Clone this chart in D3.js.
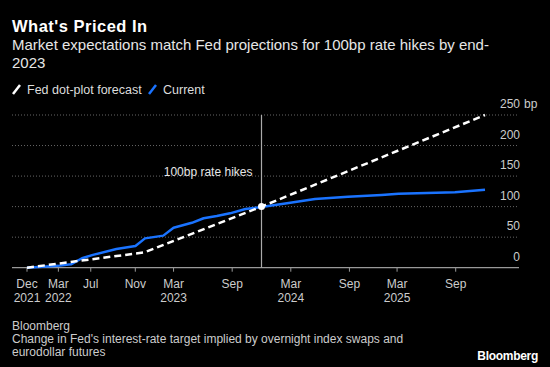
<!DOCTYPE html>
<html><head><meta charset="utf-8">
<script src="https://cdn.jsdelivr.net/npm/d3@7"></script>
<style>
html,body{margin:0;padding:0;background:#000;}
svg{display:block;}
text{font-family:"Liberation Sans",Arial,sans-serif;}
</style></head>
<body>
<script>
// x unit: FOMC-meeting index counted from Dec 2021
const tickIdx    = [0, 2.14, 4.35, 7.39, 10, 14, 18, 22, 25.25, 29.25];
const tickMonths = ["Dec","Mar","Jul","Nov","Mar","Sep","Mar","Sep","Mar","Sep"];
const tickYears  = ["2021","2022","","","2023","","2024","","2025",""];
const yTicks = [0, 50, 100, 150, 200, 250];
const markerIdx = 16; // end-2023
const markerLabel = "100bp rate hikes";

const fedIdx = [0, 8, 16, 31.25];
const fedBp  = [0, 25, 100, 250];

const curIdx = [0, 2.1, 3.0, 3.75, 4.5, 6.1, 7.4, 8.05, 9.3, 10, 11.25, 12.05, 12.95, 13.85, 14.9, 16, 17.85, 19.65, 21.9, 24.2, 25.35, 29.2, 31.25];
const curBp  = [0, 3, 5.5, 15.5, 21, 30.5, 35.5, 48, 52.5, 65.5, 73.5, 81, 84.5, 89, 96, 99.5, 106, 112.5, 116, 119, 121, 123.5, 127.5];

const W = 550, H = 367;
const svg = d3.select("body").append("svg").attr("width", W).attr("height", H);
svg.append("rect").attr("width", W).attr("height", H).attr("fill", "#000");

const x = d3.scaleLinear().domain([0, 31.25]).range([27, 485]);
const y = d3.scaleLinear().domain([0, 250]).range([267.7, 115]);
const gridL = 12, gridR = 519;

// Title etc.
svg.append("text").attr("x", 12).attr("y", 32).attr("fill", "#fff")
  .attr("font-size", 16.5).attr("font-weight", "bold").attr("letter-spacing", 0.5).text("What's Priced In");
const sub = svg.append("text").attr("x", 12).attr("fill", "#e6e6e6").attr("font-size", 15);
sub.append("tspan").attr("x", 12).attr("y", 50).text("Market expectations match Fed projections for 100bp rate hikes by end-");
sub.append("tspan").attr("x", 12).attr("y", 68).text("2023");

// Legend
const leg = svg.append("g");
leg.append("line").attr("x1", 13).attr("y1", 94).attr("x2", 20).attr("y2", 85)
  .attr("stroke", "#fff").attr("stroke-width", 2.5);
leg.append("text").attr("x", 27).attr("y", 93.5).attr("fill", "#ddd").attr("font-size", 12.5).text("Fed dot-plot forecast");
leg.append("line").attr("x1", 149).attr("y1", 94).attr("x2", 156).attr("y2", 85)
  .attr("stroke", "#1a73ff").attr("stroke-width", 2.5);
leg.append("text").attr("x", 163).attr("y", 93.5).attr("fill", "#ddd").attr("font-size", 12.5).text("Current");

// Grid
svg.append("g").selectAll("line").data(yTicks.filter(d => d > 0)).join("line")
  .attr("x1", gridL).attr("x2", gridR).attr("y1", d => y(d)).attr("y2", d => y(d))
  .attr("stroke", "#666").attr("stroke-width", 1).attr("stroke-dasharray", "1,2");
svg.append("g").selectAll("text").data(yTicks).join("text")
  .attr("x", 520).attr("y", d => y(d) - 7).attr("text-anchor", "end")
  .attr("fill", "#ccc").attr("font-size", 12).text(d => d);
svg.append("text").attr("x", 524).attr("y", y(250) - 7).attr("fill", "#ccc").attr("font-size", 12).text("bp");

// X axis
const xa = svg.append("g");
xa.append("line").attr("x1", gridL).attr("x2", gridR).attr("y1", y(0)).attr("y2", y(0))
  .attr("stroke", "#999").attr("stroke-width", 1.2);
xa.selectAll(".tk").data(tickIdx).join("line").attr("class", "tk")
  .attr("x1", d => x(d)).attr("x2", d => x(d)).attr("y1", y(0)).attr("y2", y(0) + 4)
  .attr("stroke", "#999");
xa.selectAll(".tm").data(tickIdx).join("text").attr("class", "tm")
  .attr("x", d => x(d)).attr("y", 288).attr("text-anchor", "middle")
  .attr("fill", "#ccc").attr("font-size", 12).text((d, i) => tickMonths[i]);
xa.selectAll(".ty").data(tickIdx).join("text").attr("class", "ty")
  .attr("x", d => x(d)).attr("y", 302).attr("text-anchor", "middle")
  .attr("fill", "#ccc").attr("font-size", 12).text((d, i) => tickYears[i]);

// Marker vertical line
svg.append("line").attr("x1", x(markerIdx)).attr("x2", x(markerIdx))
  .attr("y1", y(250)).attr("y2", y(0)).attr("stroke", "#aaa").attr("stroke-width", 1.2);
svg.append("text").attr("x", x(markerIdx) - 9).attr("y", 176).attr("text-anchor", "end")
  .attr("fill", "#e6e6e6").attr("font-size", 12).text(markerLabel);

// Lines
const line = d3.line().x(d => x(d[0])).y(d => y(d[1]));
const fed = fedIdx.map((d, i) => [d, fedBp[i]]);
const cur = curIdx.map((d, i) => [d, curBp[i]]);
svg.append("path").datum(cur).attr("d", line).attr("fill", "none")
  .attr("stroke", "#1a73ff").attr("stroke-width", 2.5).attr("stroke-linejoin", "round");
svg.append("path").datum(fed).attr("d", line).attr("fill", "none")
  .attr("stroke", "#fff").attr("stroke-width", 2.5).attr("stroke-dasharray", "7,4");
svg.append("circle").attr("cx", x(markerIdx)).attr("cy", y(100)).attr("r", 3.5).attr("fill", "#fff");

// Footer
const ft = svg.append("text").attr("fill", "#ccc").attr("font-size", 12);
ft.append("tspan").attr("x", 12).attr("y", 330).text("Bloomberg");
ft.append("tspan").attr("x", 12).attr("y", 343).text("Change in Fed's interest-rate target implied by overnight index swaps and");
ft.append("tspan").attr("x", 12).attr("y", 356).text("eurodollar futures");
svg.append("text").attr("x", 538).attr("y", 360).attr("text-anchor", "end")
  .attr("fill", "#fff").attr("font-size", 12).attr("font-weight", "bold").attr("letter-spacing", -0.3).text("Bloomberg");
</script>
</body></html>
